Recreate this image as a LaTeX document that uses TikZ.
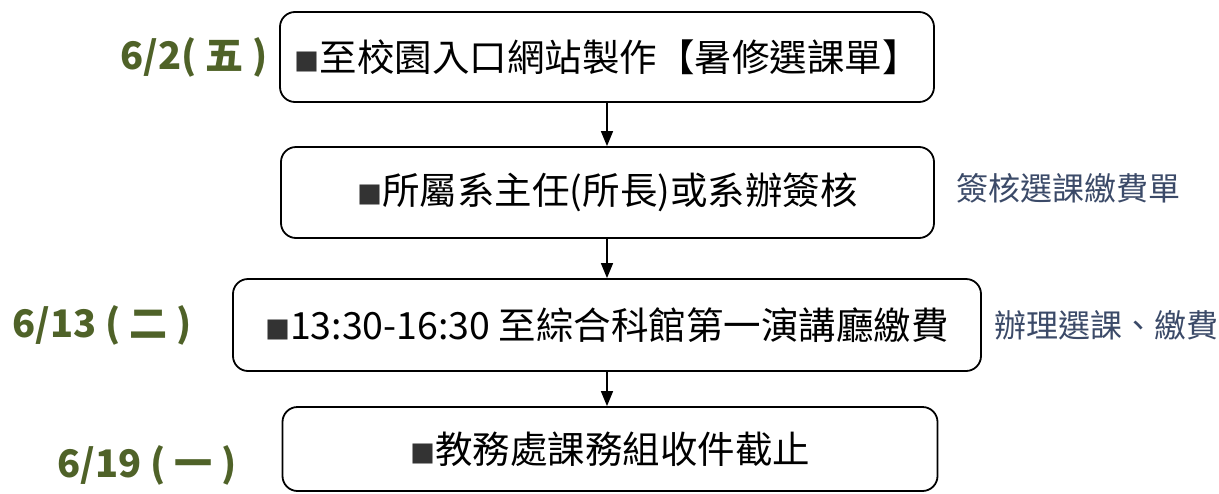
\documentclass[tikz,border=0pt]{standalone}
\usepackage{fontspec}
\setmainfont{Noto Sans CJK TC}
\usetikzlibrary{arrows.meta}
\definecolor{datecol}{HTML}{4F6228}
\definecolor{notecol}{HTML}{3B4A68}
\newcommand{\blk}{{\fontsize{25}{25}\selectfont\textcolor{black!80}{■}}}

\begin{document}
\begin{tikzpicture}[x=1pt,y=-1pt,
    stepbox/.style={draw,line width=1.8pt,rounded corners=15pt,inner sep=0pt,
        font=\fontsize{37.5}{42}\selectfont},
    datelbl/.style={text=datecol,font=\fontsize{38}{40}\selectfont\bfseries,inner sep=0pt},
    notelbl/.style={text=notecol,font=\fontsize{32}{36}\selectfont,inner sep=0pt},
    flow/.style={line width=1.5pt,-{Triangle[length=15pt,width=12pt]}}]
\useasboundingbox (0,0) rectangle (1219,493);
% steps
\node[stepbox,minimum width=654pt,minimum height=90pt] (s1) at (607,57) {\blk 至校園入口網站製作【暑修選課單】};
\node[stepbox,minimum width=653pt,minimum height=91pt] (s2) at (607.5,192.5) {\blk 所屬系主任(所長)或系辦簽核};
\node[stepbox,minimum width=748pt,minimum height=92pt] (s3) at (607,325) {\blk 13:30-16:30 至綜合科館第一演講廳繳費};
\node[stepbox,minimum width=655pt,minimum height=84pt] (s4) at (610,449) {\blk 教務處課務組收件截止};
% dates
\node[datelbl] (d1) at (194,57) {6/2( 五 )};
\node[datelbl] (d3) at (102,325) {6/13 ( 二 )};
\node[datelbl] (d4) at (147,465) {6/19 ( 一 )};
% notes
\node[notelbl] (n2) at (1068,188) {簽核選課繳費單};
\node[notelbl] (n3) at (1106,325) {辦理選課、繳費};
% arrows
\draw[flow] (s1.south) -- (s1.south |- s2.north);
\draw[flow] (s1.south |- s2.south) -- (s1.south |- s3.north);
\draw[flow] (s1.south |- s3.south) -- (s1.south |- s4.north);
\end{tikzpicture}
\end{document}
